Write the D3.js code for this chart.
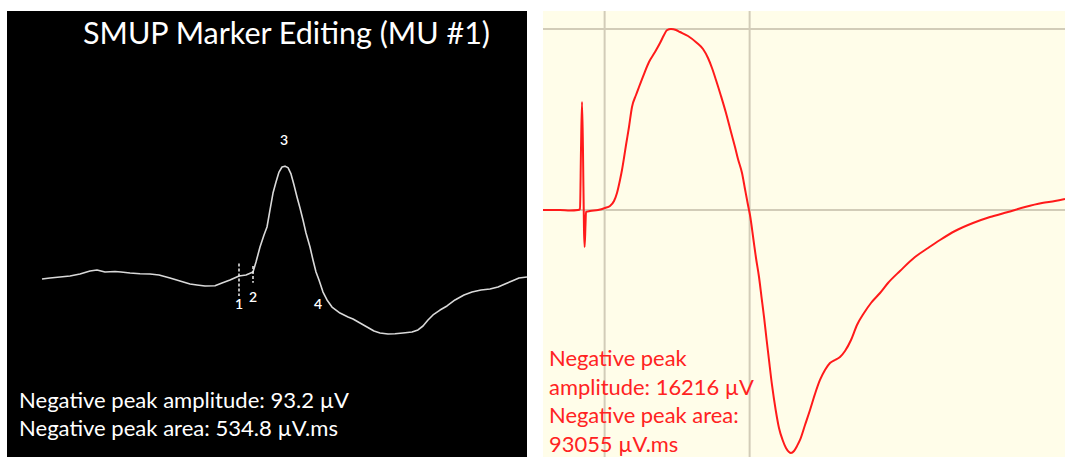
<!DOCTYPE html>
<html>
<head>
<meta charset="utf-8">
<script src="https://cdn.jsdelivr.net/npm/d3@7"></script>
<style>
  html, body { margin: 0; padding: 0; background: #ffffff; }
  svg { display: block; }
  text { font-family: Lato, "Open Sans", sans-serif; }
</style>
</head>
<body>
<svg id="chart" width="1065" height="457"></svg>
<script>
// ---------- DATA ----------
// Left: SMUP trace (time in ms, amplitude in µV, negative-up convention drawn upward)
const smupTime = [0, 0.4, 0.9, 1.4, 1.9, 2.4, 2.75, 3.15, 3.65, 3.95, 4.4, 4.9, 5.4, 5.85, 6.4, 6.9, 7.4, 7.75, 8.15, 8.65,
  9.0, 9.4, 9.85, 10.2, 10.55, 10.7, 10.9, 11.1, 11.25, 11.4, 11.55, 11.7, 11.85, 12.0, 12.15, 12.3, 12.45, 12.6, 12.75, 12.9,
  13.05, 13.2, 13.4, 13.55, 13.7, 13.85, 14.05, 14.25, 14.5, 14.9, 15.3, 15.55, 15.9, 16.25, 16.6, 16.9, 17.3, 17.65, 18.05, 18.5,
  18.8, 19.05, 19.3, 19.55, 19.9, 20.25, 20.65, 21.1, 21.5, 21.95, 22.4, 22.8, 23.15, 23.5, 23.85, 24.25];
const smupAmp = [-0.8, 0, 0.8, 1.7, 3.3, 5.8, 6.7, 5.0, 5.4, 5.0, 4.2, 3.6, 3.3, 2.5, 0, -2.5, -5.0, -5.8, -6.7, -6.4,
  -4.2, -1.7, 1.7, 2.5, 5.0, 13.3, 25.8, 35.8, 42.5, 56.7, 70.8, 80, 88.3, 92.5, 93.2, 92.0, 86.7, 77.5, 67.5, 58.3,
  48.3, 37.5, 25.8, 15, 5, -1.7, -11.7, -18.3, -24.2, -29.2, -32.5, -34.2, -37.5, -40.8, -44.2, -45.8, -46.7, -46.4, -45.8, -45,
  -43.3, -40, -35, -30.8, -26.7, -23.3, -18.3, -14.2, -11.7, -10, -9.2, -7.5, -5, -2.5, 0, 0.8];
const markerLabels = ["1", "2", "3", "4", "5"];
const markerTimes = [9.85, 10.55, 12.1, 13.8, 24.45];
const smupTitle = "SMUP Marker Editing (MU #1)";
const smupTexts = ["Negative peak amplitude: 93.2 µV", "Negative peak area: 534.8 µV.ms"];

// Right: CMAP trace (time in ms, amplitude in µV)
const cmapTime = [0.3, 0.77, 1.045, 1.266, 1.321, 1.348, 1.376, 1.403, 1.431, 1.448, 1.472, 1.486, 1.597, 1.817, 2.01, 2.148,
  2.259, 2.341, 2.424, 2.479, 2.534, 2.59, 2.672, 2.755, 2.866, 2.948, 3.086, 3.224, 3.39, 3.528, 3.638, 3.721, 3.831, 3.969,
  4.079, 4.3, 4.548, 4.714, 4.852, 4.962, 5.072, 5.21, 5.348, 5.486, 5.597, 5.679, 5.79, 5.872, 5.955, 6.01, 6.107, 6.176,
  6.259, 6.328, 6.397, 6.466, 6.534, 6.617, 6.719, 6.81, 6.91, 7.003, 7.086, 7.141, 7.224, 7.307, 7.39, 7.528, 7.666, 7.803,
  7.941, 8.079, 8.217, 8.355, 8.493, 8.631, 8.797, 8.962, 9.155, 9.348, 9.597, 9.817, 10.148, 10.562, 10.921, 11.252, 11.666,
  12.162, 12.631, 13.128, 13.597, 14.066, 14.424, 14.7];
const cmapAmp = [0, 0, -45, 0, 90, 5375, 9676, 5375, -1792, -3315, -1344, -179, -90, 0, 179, 358,
  806, 1523, 2688, 3584, 4659, 5823, 7436, 9228, 10303, 11020, 12184, 13259, 14155, 14962, 15678, 16126, 16216, 16126,
  15947, 15589, 14962, 14424, 13618, 12722, 11647, 10213, 8690, 6988, 5644, 4569, 3315, 1881, 448, -448, -2688, -4300,
  -6003, -7795, -9586, -11557, -13438, -15678, -17918, -19530, -20605, -21322, -21681, -21770, -21591, -21143, -20605, -19262, -17918, -16485,
  -15230, -14334, -13707, -13438, -13170, -12632, -11647, -10303, -9228, -8332, -7436, -6540, -5465, -4211, -3404, -2688, -1881,
  -1165, -627, -179, 269, 627, 806, 985];
const cmapGridTimes = [2, 6];
const cmapGridAmps = [0, 16216];
const cmapTexts = ["Negative peak", "amplitude: 16216 µV", "Negative peak area:", "93055 µV.ms"];

// ---------- DRAW ----------
const svg = d3.select("#chart");

function fitWidth(sel, target) {
  const node = sel.node();
  const fs = parseFloat(sel.attr("font-size"));
  const w = node.getComputedTextLength();
  if (w > 0) sel.attr("font-size", (fs * target / w).toFixed(2));
}

// Left panel
const L = { x0: 7, x1: 527, y0: 11, y1: 457 };
svg.append("defs").append("clipPath").attr("id", "clipL")
  .append("rect").attr("x", L.x0).attr("y", L.y0).attr("width", L.x1 - L.x0).attr("height", L.y1 - L.y0);
svg.append("rect").attr("x", L.x0).attr("y", L.y0).attr("width", L.x1 - L.x0).attr("height", L.y1 - L.y0)
  .attr("fill", "#000000");

const xL = d3.scaleLinear().domain([0, 24.25]).range([42, 527]);
const yL = d3.scaleLinear().domain([-150, 225]).range([458, 8]);
const gL = svg.append("g").attr("clip-path", "url(#clipL)");

const smupData = smupTime.map((t, i) => [t, smupAmp[i]]);
gL.append("path").datum(smupData)
  .attr("fill", "none").attr("stroke", "#d9d9d9").attr("stroke-width", 1.6)
  .attr("stroke-linejoin", "round")
  .attr("d", d3.line().x(d => xL(d[0])).y(d => yL(d[1])));

// dashed marker lines (markers 1 and 2)
const markerLineExt = [[12, -15], [10, -4]];
[0, 1].forEach(i => {
  gL.append("line")
    .attr("x1", xL(markerTimes[i])).attr("x2", xL(markerTimes[i]))
    .attr("y1", yL(markerLineExt[i][0])).attr("y2", yL(markerLineExt[i][1]))
    .attr("stroke", "#eeeeee").attr("stroke-width", 1.5)
    .attr("stroke-dasharray", "3,2");
});

const labelBaseY = [309, 302, 145, 309, 306];
markerLabels.forEach((lab, i) => {
  gL.append("text")
    .attr("x", xL(markerTimes[i])).attr("y", labelBaseY[i])
    .attr("text-anchor", "middle").attr("font-size", 14).attr("font-weight", 600)
    .attr("fill", "#ffffff").text(lab);
});

const title = svg.append("text").attr("x", 286.5).attr("y", 44)
  .attr("text-anchor", "middle").attr("font-size", 27).attr("fill", "#ffffff").text(smupTitle);
fitWidth(title, 407);

smupTexts.forEach((s, i) => {
  const t = svg.append("text").attr("x", 19).attr("y", 408 + i * 28)
    .attr("font-size", 20).attr("fill", "#ffffff").text(s);
  fitWidth(t, i === 0 ? 330 : 319);
});

// Right panel
const R = { x0: 543, x1: 1065, y0: 11, y1: 457 };
svg.append("defs").append("clipPath").attr("id", "clipR")
  .append("rect").attr("x", R.x0).attr("y", R.y0).attr("width", R.x1 - R.x0).attr("height", R.y1 - R.y0);
svg.append("rect").attr("x", R.x0).attr("y", R.y0).attr("width", R.x1 - R.x0).attr("height", R.y1 - R.y0)
  .attr("fill", "#fffde9");

const xR = d3.scaleLinear().domain([0.3, 14.7]).range([543, 1065]);
const yR = d3.scaleLinear().domain([-22130, 17830]).range([457, 11]);
const gR = svg.append("g").attr("clip-path", "url(#clipR)");

gR.selectAll("line.vg").data(cmapGridTimes).join("line")
  .attr("class", "vg")
  .attr("x1", d => xR(d)).attr("x2", d => xR(d)).attr("y1", R.y0).attr("y2", R.y1)
  .attr("stroke", "#d2ccb8").attr("stroke-width", 2);
gR.selectAll("line.hg").data(cmapGridAmps).join("line")
  .attr("class", "hg")
  .attr("x1", R.x0).attr("x2", R.x1).attr("y1", d => yR(d)).attr("y2", d => yR(d))
  .attr("stroke", "#d2ccb8").attr("stroke-width", 2);

const rTexts = cmapTexts.map((s, i) => svg.append("text").attr("x", 549).attr("y", 366 + i * 28.5)
  .attr("font-size", 20).attr("fill", "#ff2222").text(s));
fitWidth(rTexts[1], 205);
rTexts.forEach(t => t.attr("font-size", rTexts[1].attr("font-size")));

const cmapData = cmapTime.map((t, i) => [t, cmapAmp[i]]);
gR.append("path").datum(cmapData)
  .attr("fill", "none").attr("stroke", "#ff1a1a").attr("stroke-width", 2)
  .attr("stroke-linejoin", "round")
  .attr("d", d3.line().x(d => xR(d[0])).y(d => yR(d[1])).curve(d3.curveMonotoneX));
</script>
</body>
</html>
